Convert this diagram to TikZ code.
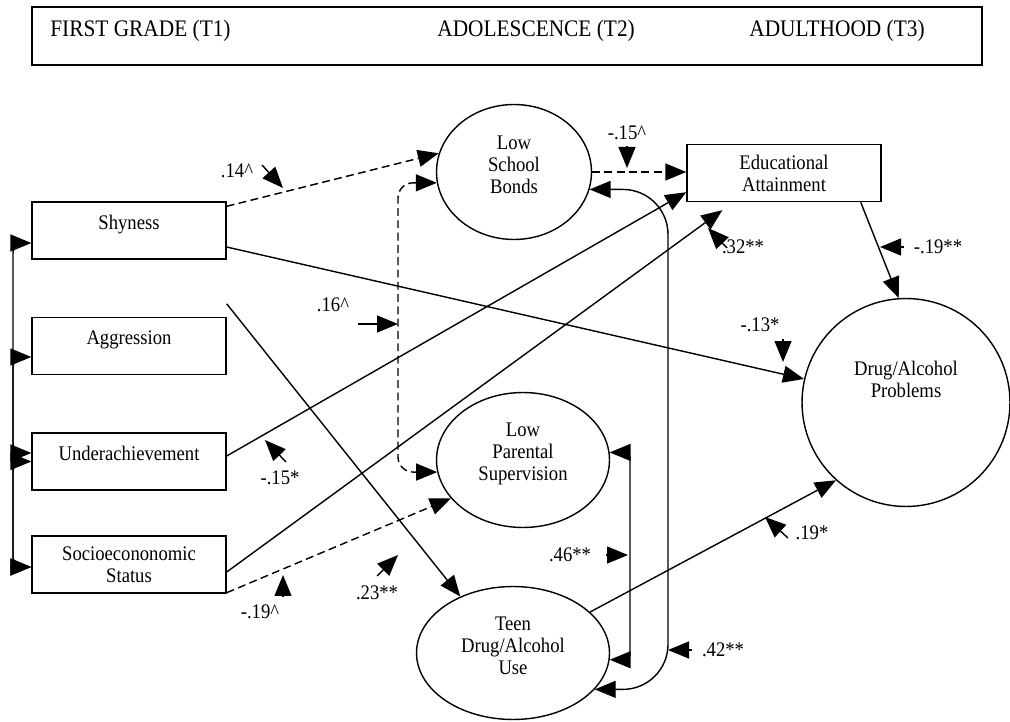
\documentclass[tikz,border=0pt]{standalone}
\usepackage{fontspec}
\setmainfont[FakeStretch=0.9]{Liberation Serif}
\usetikzlibrary{arrows.meta,shapes.geometric}

\tikzset{
  var/.style={draw,line width=0.8pt,minimum width=3.88cm,minimum height=1.14cm,align=center,inner sep=2pt,font=\fontsize{11.8}{12.5}\selectfont},
  oneline/.style={text height=0.3cm,text depth=0.34cm},
  latent/.style={draw,ellipse,line width=0.8pt,inner sep=0pt},
  inside/.style={align=center,font=\fontsize{11.8}{12.5}\selectfont},
  coef/.style={inner sep=0pt,font=\fontsize{11.8}{13}\selectfont},
  head/.style={anchor=west,inner sep=0pt,font=\fontsize{13.5}{15}\selectfont},
  link/.style={-{Triangle[length=0.42cm,width=0.34cm]},line width=0.8pt},
  twoway/.style={{Triangle[length=0.42cm,width=0.34cm]}-{Triangle[length=0.42cm,width=0.34cm]},line width=0.8pt},
  dashlink/.style={dash pattern=on 4.5pt off 2.5pt},
  pointer/.style={link}
}

\begin{document}
\begin{tikzpicture}[x=0.02cm,y=-0.02cm]
	\useasboundingbox (0,0) rectangle (1010,722);

	% time line
	\draw[line width=0.8pt] (32,7) rectangle (982,65);
	\node[head] (t1) at (50,31)  {FIRST GRADE (T1)};
	\node[head] (t2) at (437,31) {ADOLESCENCE (T2)};
	\node[head] (t3) at (749,31) {ADULTHOOD (T3)};

	% first grade
	\node[var,oneline] (shy)   at (129,230.5) {Shyness};
	\node[var,oneline] (agg)   at (129,346)   {Aggression};
	\node[var,oneline] (under) at (129,461.5) {Underachievement};
	\node[var]         (ses)   at (129,564.5) {Socioecononomic\\Status};

	% adolescence
	\node[latent,minimum width=3.1cm,minimum height=2.7cm,
		label={[inside,yshift=0.14cm]center:{Low\\School\\Bonds}}] (lsb) at (514,172) {};
	\node[latent,minimum width=3.46cm,minimum height=2.7cm,
		label={[inside,yshift=0.12cm]center:{Low\\Parental\\Supervision}}] (lps) at (523,460) {};
	\node[latent,minimum width=3.86cm,minimum height=2.66cm,
		label={[inside,yshift=0.14cm]center:{Teen\\Drug/Alcohol\\Use}}] (teen) at (513,653) {};

	% adulthood
	\node[var] (edu) at (784,173) {Educational\\Attainment};
	\node[latent,circle,minimum size=4.16cm,
		label={[inside,yshift=0.46cm]center:{Drug/Alcohol\\Problems}}] (dap) at (906,402.5) {};

	\coordinate (railL) at (13,0);
	\coordinate (railM) at (398,0);
	\coordinate (railP) at (630,0);
	\coordinate (railR) at (668,0);

	% covariances among first grade measures
	\draw[twoway,rounded corners=0.2cm] ([yshift=-0.25cm]shy.west) -| (railL |- 0,567) -- ([yshift=-0.05cm]ses.west);
	\draw[twoway,rounded corners=0.2cm] ([yshift=-0.22cm]agg.west) -| (railL |- 0,453) -- ([yshift=0.17cm]under.west);
	\draw[twoway,rounded corners=0.2cm] (under.west) -| (railL |- 0,567) -- ([yshift=-0.05cm]ses.west);

	% paths from first grade
	\draw[link,dashlink] ([yshift=-0.1cm]shy.north east) -- (lsb.166);
	\draw[link] ([yshift=-0.33cm]shy.east) -- (dap.167);
	\draw[link] ([yshift=0.26cm]agg.north east) -- (teen.133);
	\draw[link] ([yshift=0.11cm]under.east) -- ([yshift=0.2cm]edu.south west);
	\draw[link] ([yshift=-0.15cm]ses.east) -- ([xshift=0.72cm,yshift=-0.16cm]edu.south west);
	\draw[link,dashlink] ([yshift=0.02cm]ses.south east) -- (lps.208);

	% adolescence
	\draw[twoway,dashlink,rounded corners=0.3cm] (lsb.188) -| (railM |- lps.188) -- (lps.188);
	\draw[link,dashlink] (lsb.east) -- (lsb.east -| edu.west);
	\draw[twoway,rounded corners=0.9cm] (lsb.-13) -| (railR |- teen.-24) -- (teen.-24);
	\draw[twoway,rounded corners=0.1cm] (lps.5) -| (railP |- teen.-4) -- (teen.-4);

	% to adulthood
	\draw[link] (teen.28) -- (dap.228);
	\draw[link] ([xshift=-0.42cm]edu.south east) -- (dap.94);

	% coefficients
	\node[coef] (c1)  at (237,171) {.14\textasciicircum};
	\draw[pointer] (262,165) -- (283,188);
	\node[coef] (c2)  at (627,133) {-.15\textasciicircum};
	\draw[pointer] (627,146) -- (627,168);
	\node[coef] (c3)  at (333,305) {.16\textasciicircum};
	\draw[pointer] (358,324) -- (398,324);
	\node[coef] (c4)  at (743,247) {.32**};
	\draw[pointer] (727,248) -- (708,228);
	\node[coef] (c5)  at (938,247) {-.19**};
	\draw[pointer] (904,247) -- (880,247);
	\node[coef] (c6)  at (760,325) {-.13*};
	\draw[pointer] (783,339) -- (783,362);
	\node[coef] (c7)  at (280,478) {-.15*};
	\draw[pointer] (286,462) -- (265,440);
	\node[coef] (c8)  at (260,612) {-.19\textasciicircum};
	\draw[pointer] (283,596) -- (283,575);
	\node[coef] (c9)  at (377,593) {.23**};
	\draw[pointer] (377,576) -- (398,555);
	\node[coef] (c10) at (570,555) {.46**};
	\draw[pointer] (606,555) -- (628,555);
	\node[coef] (c11) at (723,650) {.42**};
	\draw[pointer] (692,650) -- (668,650);
	\node[coef] (c12) at (812,533) {.19*};
	\draw[pointer] (788,538) -- (765,517);
\end{tikzpicture}
\end{document}
